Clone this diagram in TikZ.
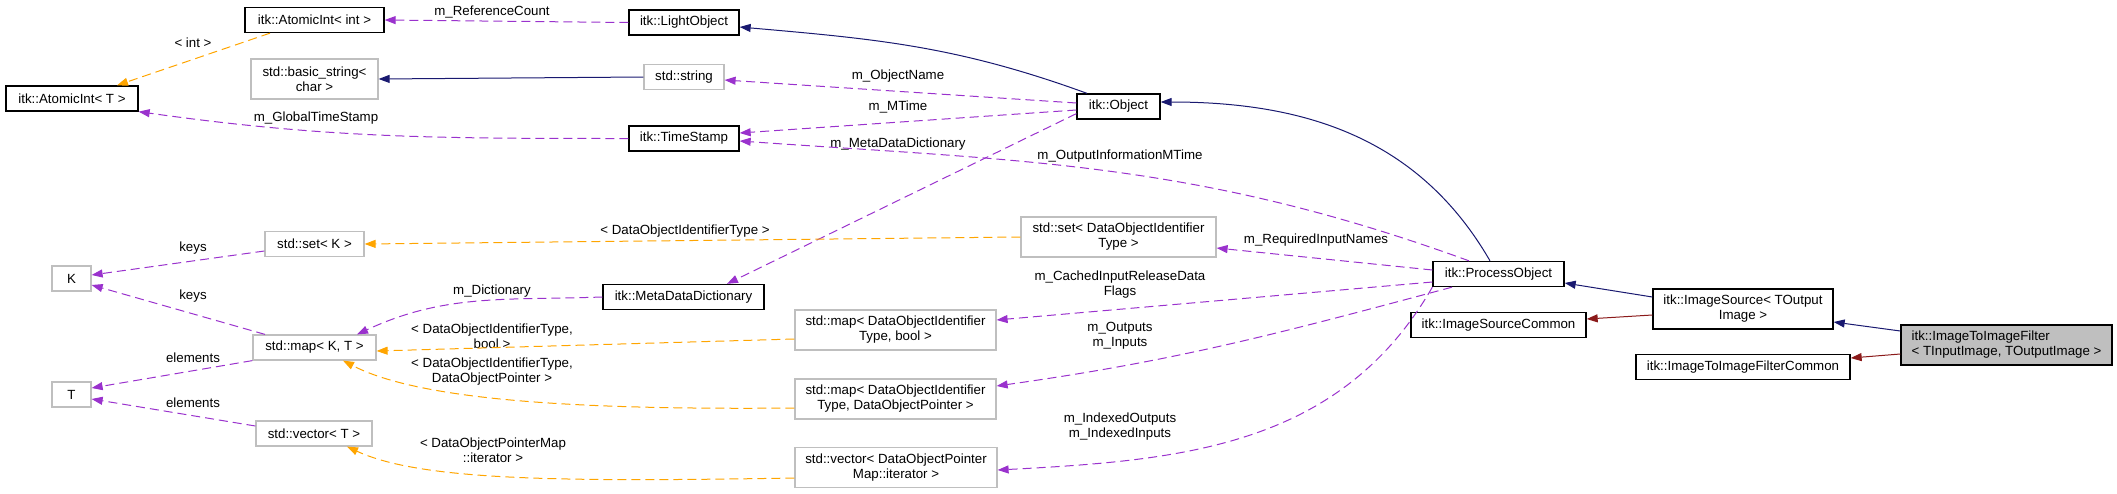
\documentclass[tikz,border=0pt]{standalone}
\usepackage{fontspec}
\setmainfont{Liberation Sans}
\usepackage{tikz}
\usetikzlibrary{arrows.meta}
\definecolor{navyline}{RGB}{25,25,112}
\definecolor{redline}{RGB}{139,26,26}
\definecolor{purpleline}{RGB}{154,50,205}
\definecolor{orangeline}{RGB}{255,165,0}
\definecolor{greyborder}{RGB}{191,191,191}

\begin{document}
\begin{tikzpicture}[
    x=1pt, y=-1pt,
    cls/.style={
        rectangle, draw=black, line width=1.3pt, fill=white,
        minimum height=25pt, inner sep=0pt, align=center, font=\fontsize{13.3}{15}\selectfont
    },
    ext/.style={
        rectangle, draw=greyborder, line width=1.2pt, fill=white,
        minimum height=25pt, inner sep=0pt, align=center, font=\fontsize{13.3}{15}\selectfont
    },
    ext2/.style={ext, minimum height=40pt},
    lbl/.style={inner sep=0pt, align=center, font=\fontsize{13.3}{15}\selectfont},
    inherit/.style={draw, navyline, line width=1pt, -{Triangle[length=11pt,width=8pt]}},
    privinherit/.style={draw, redline, line width=1pt, -{Triangle[length=11pt,width=8pt]}},
    usage/.style={draw, purpleline, line width=1pt, dash pattern=on 9pt off 5pt, -{Triangle[length=11pt,width=8pt]}},
    templ/.style={draw, orangeline, line width=1pt, dash pattern=on 9pt off 5pt, -{Triangle[length=11pt,width=8pt]}}
]
\useasboundingbox (0,0) rectangle (2117,493);

% classes
\node [cls, minimum width=132pt] (atomicT) at (72,98.5) {itk::AtomicInt< T >};
\node [cls, minimum width=139pt] (atomicInt) at (314.5,20) {itk::AtomicInt< int >};
\node [ext2, minimum width=127pt] (basicStr) at (314.5,79) {std::basic\_string<\\char >};
\node [cls, minimum width=110pt] (lightObj) at (684,22.5) {itk::LightObject};
\node [ext, minimum width=80pt] (stdString) at (684,77) {std::string};
\node [cls, minimum width=110pt] (timeStamp) at (684,138.5) {itk::TimeStamp};
\node [cls, minimum width=83pt] (object) at (1118.5,106.5) {itk::Object};
\node [ext, minimum width=99pt] (setK) at (314.5,244) {std::set< K >};
\node [ext, minimum width=39pt] (keyK) at (71.5,278.5) {K};
\node [ext, minimum width=123pt] (mapKT) at (314.5,347.5) {std::map< K, T >};
\node [ext, minimum width=39pt] (elemT) at (71.5,394.5) {T};
\node [ext, minimum width=116pt] (vectorT) at (314,433.5) {std::vector< T >};
\node [cls, minimum width=161pt] (metaDict) at (683.5,297) {itk::MetaDataDictionary};
\node [ext2, minimum width=195pt] (setId) at (1118.5,237) {std::set< DataObjectIdentifier\\Type >};
\node [cls, minimum width=131pt] (processObj) at (1498.5,274) {itk::ProcessObject};
\node [ext2, minimum width=201pt] (mapBool) at (895.5,330) {std::map< DataObjectIdentifier\\Type, bool >};
\node [ext2, minimum width=201pt] (mapPtr) at (895.5,399) {std::map< DataObjectIdentifier\\Type, DataObjectPointer >};
\node [ext2, minimum width=202pt] (vecIter) at (896,467.5) {std::vector< DataObjectPointer\\Map::iterator >};
\node [cls, minimum width=175pt] (srcCommon) at (1498.5,325) {itk::ImageSourceCommon};
\node [cls, minimum width=180pt, minimum height=40pt] (imgSource) at (1743,309) {itk::ImageSource< TOutput\\Image >};
\node [cls, minimum width=211pt, minimum height=40pt, fill=greyborder, align=left] (filter) at (2006.5,345) {itk::ImageToImageFilter\\< TInputImage, TOutputImage >};
\node [cls, minimum width=214pt] (filterCommon) at (1743,367) {itk::ImageToImageFilterCommon};

% labels
\node [lbl] (lRefCount) at (492,12) {m\_ReferenceCount};
\node [lbl] (lInt) at (193,43) {< int >};
\node [lbl] (lGlobalTime) at (316,118) {m\_GlobalTimeStamp};
\node [lbl] (lKeysSet) at (193,248) {keys};
\node [lbl] (lKeysMap) at (193,296) {keys};
\node [lbl] (lElemMap) at (193,358) {elements};
\node [lbl] (lElemVec) at (193,403) {elements};
\node [lbl] (lDict) at (492,291) {m\_Dictionary};
\node [lbl] (lIdBool) at (492,336) {< DataObjectIdentifierType,\\bool >};
\node [lbl] (lIdPtr) at (492,372) {< DataObjectIdentifierType,\\DataObjectPointer >};
\node [lbl] (lPtrIter) at (493,450) {< DataObjectPointerMap\\::iterator >};
\node [lbl] (lIdType) at (685,231) {< DataObjectIdentifierType >};
\node [lbl] (lObjName) at (898,76) {m\_ObjectName};
\node [lbl] (lMTime) at (898,107) {m\_MTime};
\node [lbl] (lMetaDict) at (898,144) {m\_MetaDataDictionary};
\node [lbl] (lOutInfo) at (1120,156) {m\_OutputInformationMTime};
\node [lbl] (lReqNames) at (1316,240) {m\_RequiredInputNames};
\node [lbl] (lCached) at (1120,285) {m\_CachedInputReleaseData\\Flags};
\node [lbl] (lInOut) at (1120,336) {m\_Outputs\\m\_Inputs};
\node [lbl] (lIndexed) at (1120,427) {m\_IndexedOutputs\\m\_IndexedInputs};

% inheritance
\draw [inherit] ([xshift=-31.5pt]object.north) to[out=160, in=-5] ([yshift=-4.5pt]lightObj.east);
\draw [inherit] (stdString.west) -- (basicStr.east);
\draw [inherit] ([xshift=-8.5pt]processObj.north) to[out=120, in=0] ([yshift=4.5pt]object.east);
\draw [inherit] ([yshift=12pt]imgSource.west) -- ([yshift=-9pt]processObj.east);
\draw [inherit] ([yshift=14pt]filter.west) -- ([yshift=-13pt]imgSource.east);
\draw [privinherit] ([yshift=-6pt]imgSource.west) -- ([yshift=6pt]srcCommon.east);
\draw [privinherit] ([yshift=-9pt]filter.west) -- ([yshift=9pt]filterCommon.east);

% members
\draw [usage] (lightObj.west) -- (atomicInt.east);
\draw [usage] ([yshift=3.5pt]object.west) -- ([yshift=-3pt]stdString.east);
\draw [usage] ([yshift=-3.5pt]object.west) -- ([yshift=5.5pt]timeStamp.east);
\draw [usage] ([xshift=-29.5pt]processObj.north) to[out=160, in=-4] ([yshift=-2.5pt]timeStamp.east);
\draw [usage] ([yshift=6pt]object.south west) -- ([xshift=43.5pt]metaDict.north);
\draw [usage] (timeStamp.west) to[out=180, in=-8] (atomicT.south east);
\draw [usage] ([yshift=-7pt]setK.west) -- ([yshift=3.5pt]keyK.east);
\draw [usage] ([xshift=-49.5pt]mapKT.north) -- ([yshift=-6.5pt]keyK.east);
\draw [usage] (mapKT.south west) -- ([yshift=6.5pt]elemT.east);
\draw [usage] ([yshift=7.5pt]vectorT.west) -- ([yshift=-4.5pt]elemT.east);
\draw [usage] (metaDict.west) to[out=182, in=25] ([xshift=42.5pt]mapKT.north);
\draw [usage] ([yshift=4pt]processObj.west) -- ([yshift=-11pt]setId.east);
\draw [usage] ([yshift=-8pt]processObj.west) -- ([yshift=10pt]mapBool.east);
\draw [usage] ([xshift=-46.5pt]processObj.south) to[out=195, in=8] ([yshift=13pt]mapPtr.east);
\draw [usage] (processObj.south west) to[out=-120, in=3] ([yshift=-2.5pt]vecIter.east);

% templates
\draw [templ] ([xshift=-44.5pt]atomicInt.south) -- ([xshift=45pt]atomicT.north);
\draw [templ] (setId.west) -- (setK.east);
\draw [templ] ([yshift=-9pt]mapBool.west) -- ([yshift=-3.5pt]mapKT.east);
\draw [templ] ([yshift=-9pt]mapPtr.west) .. controls +(-215,2) and +(77,40) .. ([xshift=28.5pt]mapKT.south);
\draw [templ] ([yshift=-10.5pt]vecIter.west) .. controls +(-235,4) and +(73,34) .. ([xshift=33pt]vectorT.south);
\end{tikzpicture}
\end{document}
